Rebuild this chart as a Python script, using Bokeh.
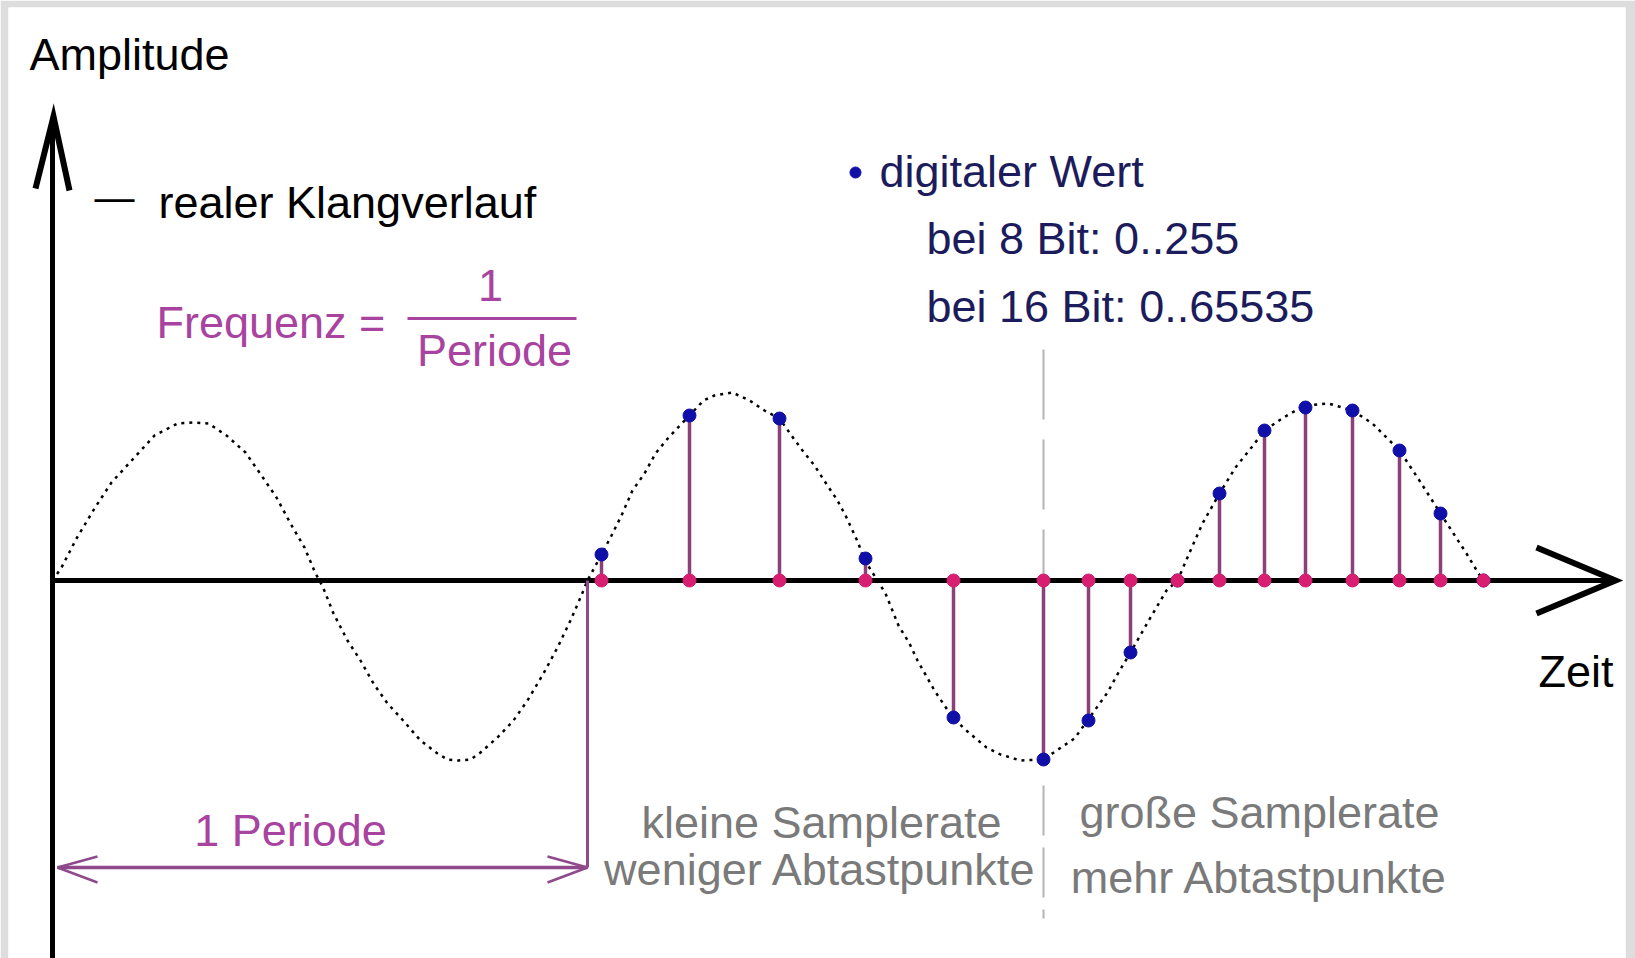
from bokeh.plotting import figure
from bokeh.models import ColumnDataSource, Range1d
from bokeh.core.properties import value
from bokeh.embed import file_html
from bokeh.resources import INLINE

# ---------------- data (time units, amplitude units; origin at the axes) ----------------
curve_t = [0, 9, 24, 42, 59, 81, 102, 125, 140, 156, 174, 193, 209, 224, 238, 252, 263, 267,
           271, 281, 295, 308, 321, 335, 348, 368, 385, 395, 406, 418, 428, 445, 461, 475, 491,
           505, 518, 528, 535, 549, 559, 569, 580, 592, 603, 616, 637, 651, 662, 680, 697, 712,
           727, 739, 750, 762, 773, 785, 794, 806, 811, 825, 833, 846, 857, 865, 882, 900, 915,
           934, 948, 968, 991, 1007, 1022, 1035, 1055, 1066, 1078, 1098, 1114, 1125, 1138, 1150,
           1167, 1183, 1199, 1212, 1231, 1252, 1276, 1300, 1320, 1347, 1365, 1388, 1401, 1414,
           1426, 1431]
curve_a = [0, 13, 42, 72, 98, 122, 145, 157, 158, 157, 145, 128, 105, 83, 57, 33, 7, 0,
           -8, -33, -60, -80, -103, -123, -137, -160, -173, -179, -180, -179, -172, -157, -140,
           -120, -93, -67, -40, -17, 0, 26, 45, 65, 90, 107, 127, 143, 165, 180, 185, 188, 180,
           170, 162, 145, 130, 115, 98, 80, 63, 37, 22, 0, -13, -45, -63, -80, -110, -137, -151,
           -167, -174, -180, -179, -168, -158, -140, -112, -92, -72, -37, -10, 0, 30, 57, 87,
           113, 133, 150, 163, 175, 177, 170, 157, 130, 103, 67, 47, 27, 7, 0]

sample_t = [549, 637, 727, 813, 901, 991, 1036, 1078, 1125, 1167, 1212, 1253, 1300, 1347, 1388, 1431]
sample_v = [26, 165, 162, 22, -137, -179, -140, -72, 0, 87, 150, 173, 170, 130, 67, 0]

period_end = 535          # end of the first period
divider_t = 991           # border between small and large sample rate

# ---------------- figure ----------------
p = figure(width=1635, height=958, x_range=Range1d(-44, 1573), y_range=Range1d(-378, 573),
           output_backend="svg", toolbar_location=None,
           x_axis_location=None, y_axis_location=None,
           min_border_left=8, min_border_top=7, min_border_right=10, min_border_bottom=0)
p.grid.visible = False
p.outline_line_color = None
p.background_fill_color = "white"
p.border_fill_color = "#dddddd"

FONT = value("Liberation Sans")
BLACK = "#000000"
MAGENTA = "#a8449f"
NAVY = "#1c1c5c"
GRAY = "#7a7a7a"
STEM = "#8b4079"
PURPLE = "#8f4a8c"

# divider between sample-rate regions (dashed light gray)
p.line([divider_t, divider_t], [231, -17], line_color="#b4b4b4", line_width=2, line_dash="70 20")
p.line([divider_t, divider_t], [-205, -338], line_color="#b4b4b4", line_width=2, line_dash="50 12")

# real sound curve (dotted)
p.line(curve_t, curve_a, line_color=BLACK, line_width=2.5, line_dash="3 5")

# axes
p.line([0, 0], [-400, 462], line_color=BLACK, line_width=5)
p.line([-17, 1, 17], [392, 464, 390], line_color=BLACK, line_width=6, line_join="miter")
p.line([0, 1563], [0, 0], line_color=BLACK, line_width=5)
p.line([1484, 1563, 1484], [33, 0, -33], line_color=BLACK, line_width=6, line_join="miter")

# period marker and bracket
p.line([period_end, period_end], [0, -287], line_color=PURPLE, line_width=3)
p.line([5, period_end], [-287, -287], line_color=PURPLE, line_width=3.5)
p.line([45, 5, 45], [-276, -287, -302], line_color=PURPLE, line_width=2.5)
p.line([period_end - 40, period_end, period_end - 40], [-276, -287, -302],
       line_color=PURPLE, line_width=2.5)

# samples: stems, digital values, sample instants
src = ColumnDataSource(dict(t=sample_t, v=sample_v, z=[0] * len(sample_t)))
p.segment(x0="t", y0="z", x1="t", y1="v", source=src, line_color=STEM, line_width=3.5)
p.scatter(x="t", y="v", source=src, size=13, fill_color="#1010a8", line_color="#1010a8")
p.scatter(x="t", y="z", source=src, size=13, fill_color="#d81e70", line_color="#d81e70")

# legend bullet
p.scatter([803], [408], size=11, fill_color="#1010a8", line_color="#1010a8")

# fraction bar
p.line([355, 524], [262, 262], line_color=MAGENTA, line_width=3)


def label(x, y, s, color, align="left", size="45px"):
    p.text(x=[x], y=[y + 17], text=[s], text_color=color, text_font=FONT, text_font_size=size,
           text_align=align, text_baseline="alphabetic")


label(-23, 509, "Amplitude", BLACK)
label(42, 367, "—", BLACK, size="40px")
label(106, 361, "realer Klangverlauf", BLACK)
label(104, 241, "Frequenz =", MAGENTA)
label(438, 278, "1", MAGENTA, align="center")
label(442, 213, "Periode", MAGENTA, align="center")
label(827, 392, "digitaler Wert", NAVY)
label(874, 325, "bei 8 Bit: 0..255", NAVY)
label(874, 257, "bei 16 Bit: 0..65535", NAVY)
label(1486, -108, "Zeit", BLACK)
label(769, -259, "kleine Samplerate", GRAY, align="center")
label(768, -306, "weniger Abtastpunkte", GRAY, align="center")
label(1207, -249, "große Samplerate", GRAY, align="center")
label(1207, -314, "mehr Abtastpunkte", GRAY, align="center")
label(238, -267, "1 Periode", MAGENTA, align="center")

open("out.html", "w").write(file_html(p, INLINE))
